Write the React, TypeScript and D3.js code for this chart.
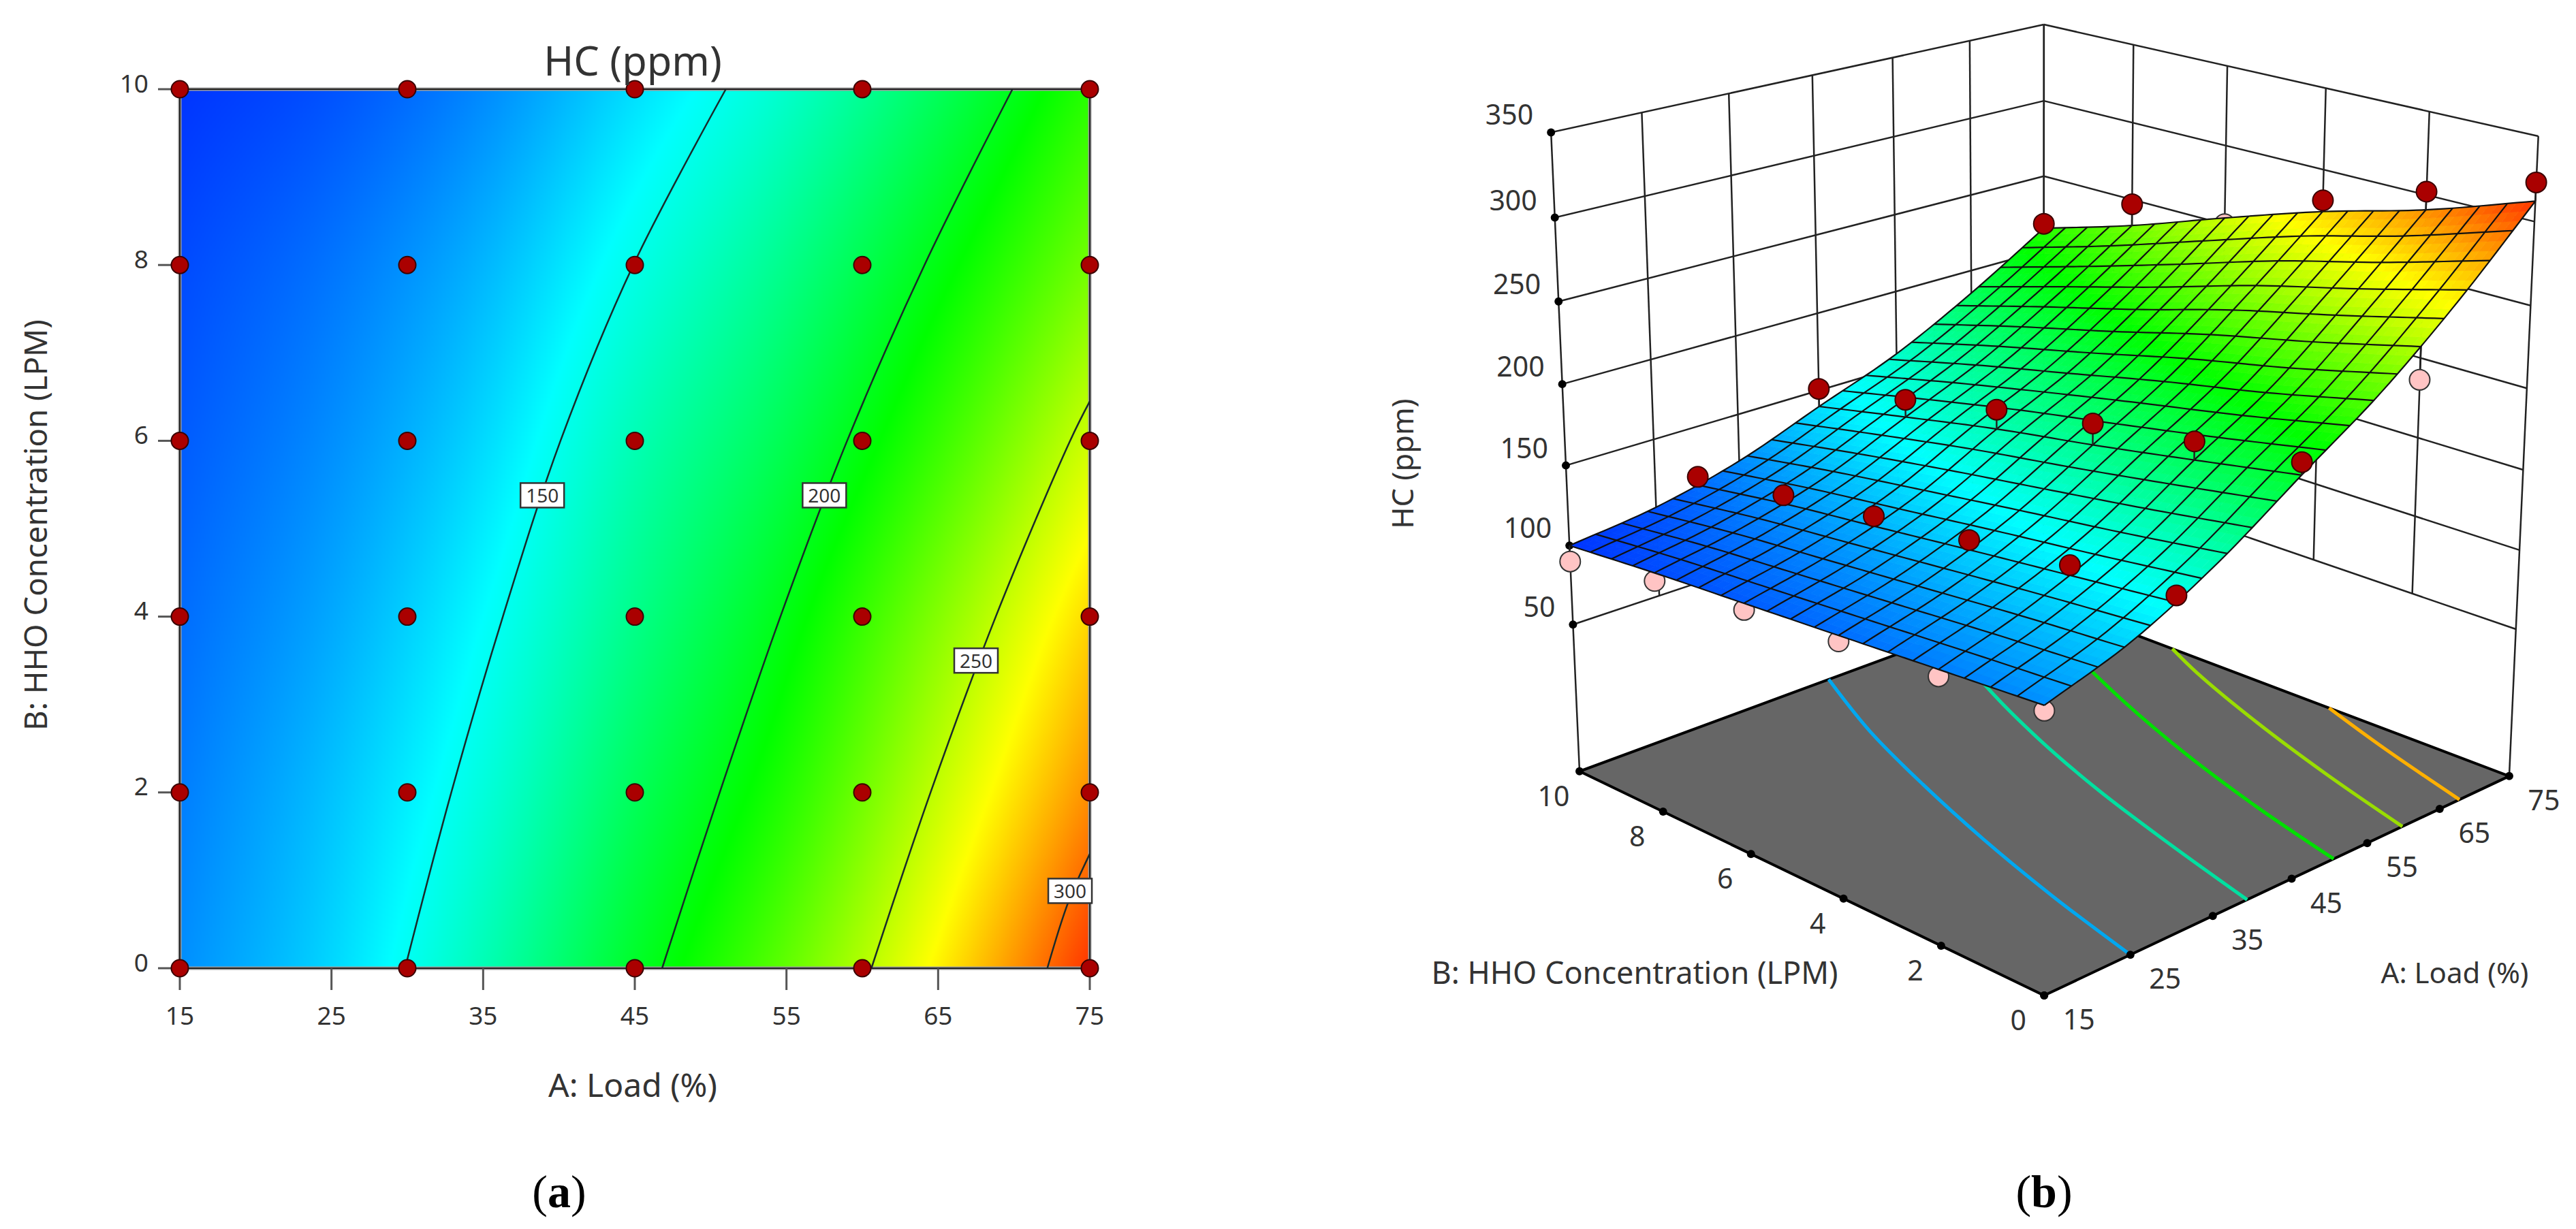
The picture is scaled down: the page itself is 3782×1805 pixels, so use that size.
import { useEffect, useRef } from 'react'
import * as d3 from 'd3'

const loadTicks = [15, 25, 35, 45, 55, 65, 75]
const concTicks = [0, 2, 4, 6, 8, 10]
const hcTicks = [50, 100, 150, 200, 250, 300, 350]
const hcFloor = -45

// response surface, one row per HHO level, one column per load tick
const hcConc0 = [121, 138, 164, 196.5, 228.7, 267.7, 312]
const hcConc2 = [117, 133, 155, 185, 214, 251.5, 291]
const hcConc4 = [113, 127, 147, 174, 201.6, 236.5, 274]
const hcConc6 = [109, 121, 138.5, 164, 187.6, 218.6, 254]
const hcConc8 = [105, 115, 130, 152, 174, 202, 233]
const hcConc10 = [100, 107, 120, 139.5, 159, 185, 215]
const hcRows = [hcConc0, hcConc2, hcConc4, hcConc6, hcConc8, hcConc10]

// measured runs, HC for HHO = 0, 2, 4, 6, 8, 10
const runLoads = [15, 30, 45, 60, 75]
const runsLoad15 = [118, 113, 109.5, 105, 100, 90]
const runsLoad30 = [154, 149, 142, 135, 127, 118]
const runsLoad45 = [204, 196, 187, 176, 163, 151]
const runsLoad60 = [228, 215, 200, 185, 170, 153]
const runsLoad75 = [323, 302, 281, 250, 247, 218]
const runRows = [runsLoad15, runsLoad30, runsLoad45, runsLoad60, runsLoad75]

// contour lines of panel (a): [load, hho]
const contour150 = [[29.85, 0], [32.9, 2], [36.3, 4], [40.1, 6], [44.9, 8], [51, 10]]
const contour200 = [[46.8, 0], [50.6, 2], [54.6, 4], [59, 6], [64.1, 8], [69.9, 10]]
const contour250 = [[60.6, 0], [64.5, 2], [68.8, 4], [73.7, 6], [75, 6.45]]
const contour300 = [[72.2, 0], [73.6, 0.76], [75, 1.3]]
const contours2d = [contour150, contour200, contour250, contour300]
const contourLabels = ['150', '200', '250', '300']
const contourLabelAt = [[38.9, 5.38], [57.5, 5.38], [67.5, 3.5], [73.7, 0.88]]

// contours on the floor of panel (b)
const floor140 = [[25, 0], [28, 2], [31.5, 4], [35.5, 6], [40, 8], [45.5, 10]]
const floor175 = [[39.3, 0], [42.5, 2], [46, 4], [50.2, 6], [55.2, 8], [61.2, 10]]
const floor210 = [[50.5, 0], [53.7, 2], [57.5, 4], [62, 6], [67.2, 8], [73, 10]]
const floor245 = [[59.8, 0], [63.4, 2], [67.5, 4], [72.2, 6], [75, 7]]
const floor280 = [[67.8, 0], [71.6, 2], [75, 3.6]]
const floorContours = [floor140, floor175, floor210, floor245, floor280]
const floorColors = ['#00a8f0', '#00e0a0', '#00e000', '#99dd00', '#ffb000']

const FONT = '"Noto Sans", sans-serif'
const INK = '#333'

const colorOf = d3
  .scaleLinear<string>()
  .domain([88, 147, 206, 265, 324])
  .range(['#0000ff', '#00ffff', '#00ff00', '#ffff00', '#ff0000'])
  .clamp(true)

// Catmull-Rom through the table
const spline = (p: number[], t: number) => {
  const n = p.length - 1
  const i = Math.min(Math.floor(t), n - 1)
  const f = t - i
  const p1 = p[i]
  const p2 = p[i + 1]
  const p0 = i > 0 ? p[i - 1] : 2 * p1 - p2
  const p3 = i < n - 1 ? p[i + 2] : 2 * p2 - p1
  return 0.5 * (2 * p1 + (p2 - p0) * f + (2 * p0 - 5 * p1 + 4 * p2 - p3) * f * f + (3 * p1 - p0 - 3 * p2 + p3) * f * f * f)
}
const hcAt = (load: number, conc: number) => {
  const t = (load - 15) / 10
  return spline(hcRows.map((r) => spline(r, t)), conc / 2)
}

// camera of panel (b), fitted to where the box corners sit on the page
const boxFit: [number, number, number, number, number][] = [
  [0, 0, 0, 3002, 1464],
  [1, 0, 0, 3682, 1138],
  [0, 1, 0, 2320, 1137],
  [1, 1, 0, 3001, 884],
  [0, 1, 1, 2276, 199],
  [1, 0, 1, 3728, 200],
  [1, 1, 1, 3001, 35],
  [0, 1, 95 / 395, 2310, 913],
  [0, 1, 145 / 395, 2303, 795],
]

const fitCamera = () => {
  const rows: number[][] = []
  const rhs: number[] = []
  boxFit.forEach(([u, v, w, px, py]) => {
    const x = px / 1000
    const y = py / 1000
    rows.push([u, v, w, 1, 0, 0, 0, 0, -x * u, -x * v, -x * w])
    rhs.push(x)
    rows.push([0, 0, 0, 0, u, v, w, 1, -y * u, -y * v, -y * w])
    rhs.push(y)
  })
  const m = d3.range(11).map((i) => [
    ...d3.range(11).map((j) => d3.sum(rows, (r) => r[i] * r[j])),
    d3.sum(rows, (r, k) => r[i] * rhs[k]),
  ])
  for (let c = 0; c < 11; c++) {
    let best = c
    for (let r = c + 1; r < 11; r++) if (Math.abs(m[r][c]) > Math.abs(m[best][c])) best = r
    ;[m[c], m[best]] = [m[best], m[c]]
    for (let r = 0; r < 11; r++) {
      if (r === c) continue
      const k = m[r][c] / m[c][c]
      for (let j = c; j < 12; j++) m[r][j] -= k * m[c][j]
    }
  }
  return m.map((r, i) => r[11] / r[i])
}

const App = () => {
  const svgRef = useRef<SVGSVGElement>(null)

  useEffect(() => {
    if (!svgRef.current) return
    const svg = d3.select(svgRef.current)
    svg.selectAll('*').remove()

    const label = (x: number, y: number, s: string, size: number, anchor = 'middle') =>
      svg
        .append('text')
        .attr('x', x)
        .attr('y', y)
        .attr('text-anchor', anchor)
        .attr('dominant-baseline', 'central')
        .attr('font-family', FONT)
        .attr('font-size', size)
        .attr('fill', INK)
        .text(s)

    // ---- panel (a)
    const x = d3.scaleLinear().domain([15, 75]).range([264, 1600])
    const y = d3.scaleLinear().domain([0, 10]).range([1422, 131])

    const cw = 668
    const ch = 646
    const canvas = document.createElement('canvas')
    canvas.width = cw
    canvas.height = ch
    const ctx = canvas.getContext('2d')!
    const img = ctx.createImageData(cw, ch)
    for (let j = 0; j < ch; j++) {
      const b = 10 - (10 * (j + 0.5)) / ch
      for (let i = 0; i < cw; i++) {
        const c = d3.rgb(colorOf(hcAt(15 + (60 * (i + 0.5)) / cw, b)))
        const o = (j * cw + i) * 4
        img.data[o] = c.r
        img.data[o + 1] = c.g
        img.data[o + 2] = c.b
        img.data[o + 3] = 255
      }
    }
    ctx.putImageData(img, 0, 0)
    svg
      .append('image')
      .attr('href', canvas.toDataURL())
      .attr('x', x(15))
      .attr('y', y(10))
      .attr('width', x(75) - x(15))
      .attr('height', y(0) - y(10))
      .attr('preserveAspectRatio', 'none')

    const frame = { x: x(15), y: y(10), width: x(75) - x(15), height: y(0) - y(10) }
    svg.append('rect').attr('x', frame.x).attr('y', frame.y).attr('width', frame.width).attr('height', frame.height)
      .attr('fill', 'none').attr('stroke', '#999').attr('stroke-width', 5)
    svg.append('rect').attr('x', frame.x).attr('y', frame.y).attr('width', frame.width).attr('height', frame.height)
      .attr('fill', 'none').attr('stroke', '#222').attr('stroke-width', 2)

    const contourLine = d3
      .line<number[]>()
      .x((d) => x(d[0]))
      .y((d) => y(d[1]))
      .curve(d3.curveCatmullRom)
    contours2d.forEach((c) => {
      svg.append('path').datum(c).attr('d', contourLine).attr('fill', 'none').attr('stroke', '#1a2a2a').attr('stroke-width', 2.5)
    })

    loadTicks.forEach((t) => {
      svg.append('line').attr('x1', x(t)).attr('x2', x(t)).attr('y1', y(0)).attr('y2', y(0) + 32).attr('stroke', '#555').attr('stroke-width', 3)
      label(x(t), 1490, String(t), 37)
    })
    concTicks.forEach((t) => {
      svg.append('line').attr('x1', x(15) - 32).attr('x2', x(15)).attr('y1', y(t)).attr('y2', y(t)).attr('stroke', '#555').attr('stroke-width', 3)
      label(218, y(t) - 10, String(t), 37, 'end')
    })

    contourLabelAt.forEach((d, i) => {
      const w = 64
      const h = 36
      svg.append('rect').attr('x', x(d[0]) - w / 2).attr('y', y(d[1]) - h / 2).attr('width', w).attr('height', h)
        .attr('fill', '#fff').attr('stroke', '#333').attr('stroke-width', 2.5)
      label(x(d[0]), y(d[1]), contourLabels[i], 28)
    })

    runLoads.forEach((a) => {
      concTicks.forEach((b) => {
        svg.append('circle').attr('cx', x(a)).attr('cy', y(b)).attr('r', 12.5)
          .attr('fill', '#aa0000').attr('stroke', '#3a0000').attr('stroke-width', 2)
      })
    })

    label(929, 87, 'HC (ppm)', 59.5)
    label(929, 1592, 'A: Load (%)', 48)
    label(51, 771, 'B: HHO Concentration (LPM)', 45.5).attr('transform', 'rotate(-90 51 771)')

    // ---- panel (b)
    const p = fitCamera()
    const uOf = d3.scaleLinear().domain([15, 75]).range([0, 1])
    const vOf = d3.scaleLinear().domain([0, 10]).range([0, 1])
    const wOf = d3.scaleLinear().domain([hcFloor, 350]).range([0, 1])
    const project = (a: number, b: number, z: number): [number, number] => {
      const u = uOf(a)
      const v = vOf(b)
      const w = wOf(z)
      const d = p[8] * u + p[9] * v + p[10] * w + 1
      return [
        ((p[0] * u + p[1] * v + p[2] * w + p[3]) / d) * 1000,
        ((p[4] * u + p[5] * v + p[6] * w + p[7]) / d) * 1000,
      ]
    }
    const path3 = d3.line()
    const wallLine = (pts: [number, number][]) =>
      svg.append('path').attr('d', path3(pts)).attr('fill', 'none').attr('stroke', '#222').attr('stroke-width', 2.5)

    // wall grid stops at the lowest tick, only the box edges run down to the floor
    loadTicks.forEach((a) => wallLine([project(a, 10, a === 15 || a === 75 ? hcFloor : 50), project(a, 10, 350)]))
    concTicks.forEach((b) => wallLine([project(75, b, b === 0 || b === 10 ? hcFloor : 50), project(75, b, 350)]))
    hcTicks.forEach((z) => {
      wallLine([project(15, 10, z), project(75, 10, z)])
      wallLine([project(75, 10, z), project(75, 0, z)])
    })

    const floorPts = [project(15, 0, hcFloor), project(75, 0, hcFloor), project(75, 10, hcFloor), project(15, 10, hcFloor)]
    svg.append('path').attr('d', path3(floorPts) + 'Z').attr('fill', '#666').attr('stroke', '#000').attr('stroke-width', 4)

    const floorLine = d3
      .line<number[]>()
      .x((d) => project(d[0], d[1], hcFloor)[0])
      .y((d) => project(d[0], d[1], hcFloor)[1])
      .curve(d3.curveCatmullRom)
    floorContours.forEach((c, i) => {
      svg.append('path').datum(c).attr('d', floorLine).attr('fill', 'none').attr('stroke', floorColors[i]).attr('stroke-width', 5)
    })

    const tickDot = (q: [number, number]) => svg.append('circle').attr('cx', q[0]).attr('cy', q[1]).attr('r', 6).attr('fill', '#000')
    hcTicks.forEach((z) => {
      const q = project(15, 10, z)
      tickDot(q)
      label(q[0] - 26, q[1] - 27, String(z), 41, 'end')
    })
    loadTicks.forEach((a) => {
      const q = project(a, 0, hcFloor)
      tickDot(q)
      label(q[0] + 51, q[1] + 34, String(a), 41)
    })
    concTicks.forEach((b) => {
      const q = project(15, b, hcFloor)
      tickDot(q)
      label(q[0] - 38, q[1] + 35, String(b), 41)
    })

    const drawRun = (a: number, b: number, z: number, above: boolean) => {
      const q = project(a, b, z)
      wallLine([q, project(a, b, hcAt(a, b))])
      svg.append('circle').attr('cx', q[0]).attr('cy', q[1]).attr('r', 15)
        .attr('fill', above ? '#aa0000' : '#ffc4c4')
        .attr('stroke', above ? '#3a0000' : '#333').attr('stroke-width', 2)
    }
    const runs = runLoads.flatMap((a, i) => concTicks.map((b, j) => ({ a, b, z: runRows[i][j] })))
    runs.filter((r) => r.z < hcAt(r.a, r.b)).forEach((r) => drawRun(r.a, r.b, r.z, false))

    // surface: 20 x 20 mesh, each cell shaded in 3 x 3 patches
    const cells = 60
    const aOf = (i: number) => 15 + (60 * i) / cells
    const bOf = (j: number) => (10 * j) / cells
    const gSurf = svg.append('g')
    for (let i = 0; i < cells; i++) {
      for (let j = 0; j < cells; j++) {
        const col = colorOf(hcAt(aOf(i + 0.5), bOf(j + 0.5)))
        const quad = [[i, j], [i + 1, j], [i + 1, j + 1], [i, j + 1]].map(([m, n]) =>
          project(aOf(m), bOf(n), hcAt(aOf(m), bOf(n))),
        )
        gSurf.append('path').attr('d', path3(quad) + 'Z').attr('fill', col).attr('stroke', col).attr('stroke-width', 0.8)
      }
    }
    const gMesh = svg.append('g').attr('fill', 'none').attr('stroke', '#111').attr('stroke-width', 2.2)
    d3.range(0, cells + 1, 3).forEach((i) => {
      gMesh.append('path').attr('d', path3(d3.range(cells + 1).map((j) => project(aOf(i), bOf(j), hcAt(aOf(i), bOf(j))))))
      gMesh.append('path').attr('d', path3(d3.range(cells + 1).map((j) => project(aOf(j), bOf(i), hcAt(aOf(j), bOf(i))))))
    })

    runs.filter((r) => r.z >= hcAt(r.a, r.b)).forEach((r) => drawRun(r.a, r.b, r.z, true))

    label(2058, 681, 'HC (ppm)', 43.5).attr('transform', 'rotate(-90 2058 681)')
    label(2400, 1427, 'B: HHO Concentration (LPM)', 45)
    label(3604, 1427, 'A: Load (%)', 42)

    // ---- captions
    const caption = (cx: number, letter: string) => {
      const t = svg.append('text').attr('x', cx).attr('y', 1750).attr('text-anchor', 'middle').attr('dominant-baseline', 'central')
        .attr('font-family', '"Liberation Serif", serif').attr('font-size', 68).attr('fill', '#000')
      t.append('tspan').text('(')
      t.append('tspan').attr('font-weight', 'bold').text(letter)
      t.append('tspan').text(')')
    }
    caption(821, 'a')
    caption(3001, 'b')
  }, [])

  return <svg ref={svgRef} width={3782} height={1805} style={{ position: 'absolute', left: 0, top: 0, background: '#fff' }} />
}

export default App
